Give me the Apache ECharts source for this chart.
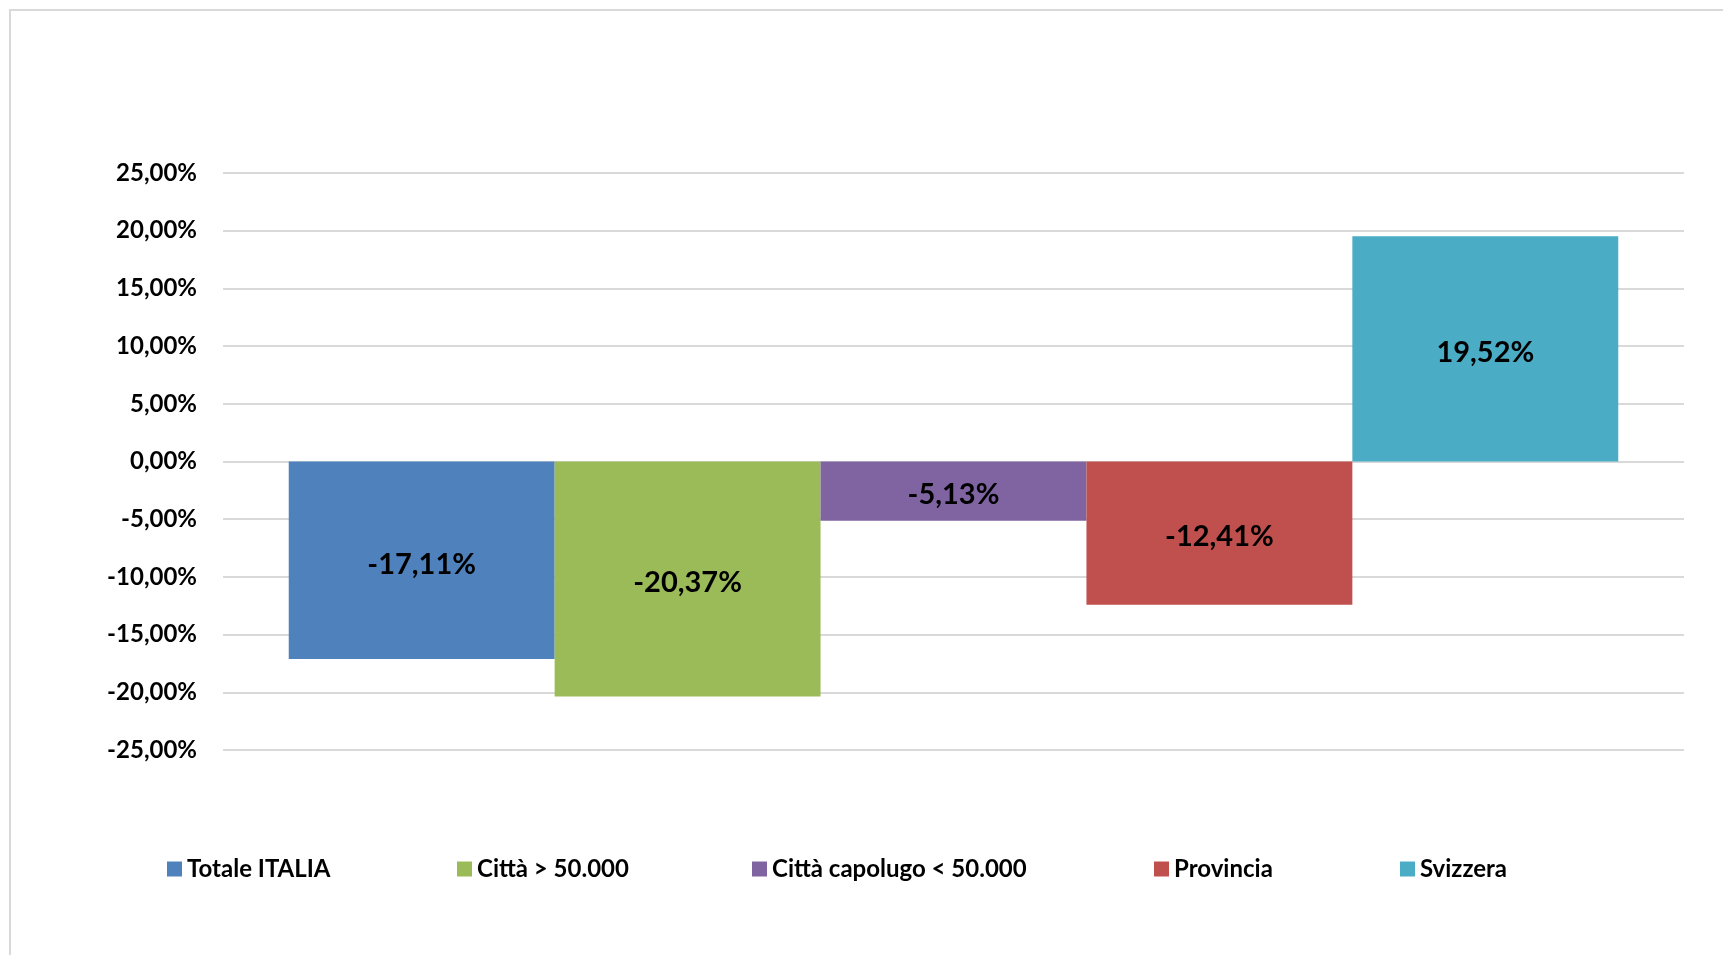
<!DOCTYPE html>
<html>
<head>
    <meta charset="utf-8"/>
    <title>Variazione percentuale</title>
    <script src="https://cdn.jsdelivr.net/npm/echarts@6/dist/echarts.min.js"></script>
    <style>
        html, body { margin: 0; padding: 0; background: #fff; }
        #frame {
            position: absolute; left: 9px; top: 9px; right: 0; bottom: 0;
            border-left: 2px solid #d9d9d9; border-top: 2px solid #d9d9d9;
        }
        #chart { position: absolute; left: 0; top: 0; width: 1723px; height: 955px; }
    </style>
</head>
<body>
<div id="frame"></div>
<div id="chart"></div>
<script type="text/javascript">
    // dati
    var categories = [''];
    var seriesNames = ['Totale ITALIA', 'Città > 50.000', 'Città capolugo < 50.000', 'Provincia', 'Svizzera'];
    var seriesValues = [-17.11, -20.37, -5.13, -12.41, 19.52];
    var legendLeft = [167, 457, 752, 1154, 1400];

    var palette = ['#4f81bd', '#9bbb59', '#8064a2', '#c0504d', '#4bacc6'];
    var font = 'Lato, "Open Sans", sans-serif';

    function fmt(v) {
        return v.toFixed(2).replace('.', ',') + '%';
    }

    var myChart = echarts.init(document.getElementById('chart'), null, {renderer: 'canvas'});

    var series = [];
    var legends = [];
    for (var i = 0; i < seriesNames.length; i++) {
        series.push({
            name: seriesNames[i],
            type: 'bar',
            barGap: '0%',
            barCategoryGap: '9%',
            data: [seriesValues[i]],
            label: {
                show: true,
                position: 'inside',
                offset: [0, 4],
                formatter: function (p) { return fmt(p.value); },
                color: '#000',
                fontFamily: font,
                fontWeight: 'bold',
                fontSize: 29
            }
        });
        legends.push({
            data: [seriesNames[i]],
            left: legendLeft[i],
            top: 857,
            itemWidth: 15,
            itemHeight: 15,
            icon: 'rect',
            selectedMode: false,
            padding: 0,
            textStyle: {
                color: '#000',
                fontFamily: font,
                fontWeight: 'bold',
                fontSize: 24
            }
        });
    }

    myChart.setOption({
        animation: false,
        color: palette,
        legend: legends,
        grid: {
            left: 223,
            right: 39,
            top: 173,
            bottom: 205,
            containLabel: false
        },
        xAxis: {
            type: 'category',
            data: categories,
            axisLine: {show: false},
            axisTick: {show: false},
            axisLabel: {show: false}
        },
        yAxis: {
            type: 'value',
            min: -25,
            max: 25,
            interval: 5,
            axisLine: {show: false},
            axisTick: {show: false},
            axisLabel: {
                margin: 26,
                color: '#000',
                fontFamily: font,
                fontWeight: 'bold',
                fontSize: 24,
                formatter: function (v) { return fmt(v); }
            },
            splitLine: {
                lineStyle: {color: '#d9d9d9', width: 2}
            }
        },
        series: series
    });
</script>
</body>
</html>
